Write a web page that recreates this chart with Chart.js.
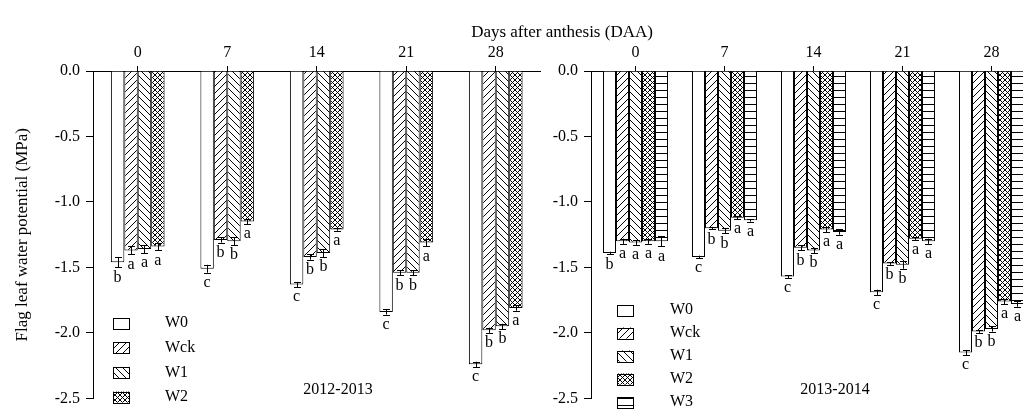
<!DOCTYPE html>
<html>
<head>
<meta charset="utf-8">
<script src="https://cdn.jsdelivr.net/npm/chart.js@4.4.0/dist/chart.umd.min.js"></script>
<style>
  html, body { margin: 0; padding: 0; background: #fff; overflow: hidden; }
  #wrap { position: relative; width: 1023px; height: 414px; overflow: hidden; }
  #c1 { position: absolute; left: 0; top: 0; }
  #c2 { position: absolute; left: 545px; top: 0; }
</style>
</head>
<body>
<div id="wrap">
  <canvas id="c1" width="1023" height="414"></canvas>
  <canvas id="c2" width="495" height="414"></canvas>
</div>
<script>
// Data
const days = ["0", "7", "14", "21", "28"];
const yTicks = [0, -0.5, -1.0, -1.5, -2.0, -2.5];

// 2012-2013
const names2013 = ["W0", "Wck", "W1", "W2"];
const w0_2013 = [-1.46, -1.51, -1.63, -1.84, -2.24];
const wck_2013 = [-1.37, -1.29, -1.42, -1.54, -1.98];
const w1_2013 = [-1.36, -1.30, -1.39, -1.54, -1.95];
const w2_2013 = [-1.34, -1.15, -1.21, -1.31, -1.81];
const err_w0_2013 = [0.04, 0.03, 0.02, 0.02, 0.02];
const err_wck_2013 = [0.03, 0.02, 0.02, 0.02, 0.02];
const err_w1_2013 = [0.03, 0.03, 0.03, 0.02, 0.02];
const err_w2_2013 = [0.03, 0.02, 0.01, 0.03, 0.02];
const let_w0_2013 = ["b", "c", "c", "c", "c"];
const let_wck_2013 = ["a", "b", "b", "b", "b"];
const let_w1_2013 = ["a", "b", "b", "b", "b"];
const let_w2_2013 = ["a", "a", "a", "a", "a"];

// 2013-2014
const names2014 = ["W0", "Wck", "W1", "W2", "W3"];
const w0_2014 = [-1.39, -1.42, -1.57, -1.69, -2.15];
const wck_2014 = [-1.30, -1.20, -1.35, -1.47, -1.99];
const w1_2014 = [-1.31, -1.22, -1.37, -1.48, -1.97];
const w2_2014 = [-1.30, -1.12, -1.21, -1.28, -1.76];
const w3_2014 = [-1.30, -1.14, -1.23, -1.30, -1.78];
const err_w0_2014 = [0.01, 0.01, 0.01, 0.02, 0.02];
const err_wck_2014 = [0.02, 0.01, 0.02, 0.01, 0.01];
const err_w1_2014 = [0.02, 0.02, 0.02, 0.03, 0.02];
const err_w2_2014 = [0.02, 0.01, 0.02, 0.01, 0.02];
const err_w3_2014 = [0.04, 0.01, 0.02, 0.02, 0.02];
const let_w0_2014 = ["b", "c", "c", "c", "c"];
const let_wck_2014 = ["a", "b", "b", "b", "b"];
const let_w1_2014 = ["a", "b", "b", "b", "b"];
const let_w2_2014 = ["a", "a", "a", "a", "a"];
const let_w3_2014 = ["a", "a", "a", "a", "a"];

const FONT = "'Liberation Serif', 'Times New Roman', serif";

// Hatch patterns
function makePattern(kind) {
  if (kind === "none") return "#ffffff";
  const s = kind === "cross" ? 5 : 7;
  const c = document.createElement("canvas");
  c.width = s; c.height = s;
  const g = c.getContext("2d");
  g.fillStyle = "#fff";
  g.fillRect(0, 0, s, s);
  g.strokeStyle = "#000";
  g.lineWidth = 1;
  g.beginPath();
  if (kind === "fwd" || kind === "cross") {
    g.moveTo(0, s); g.lineTo(s, 0);
    g.moveTo(-1, 1); g.lineTo(1, -1);
    g.moveTo(s - 1, s + 1); g.lineTo(s + 1, s - 1);
  }
  if (kind === "back" || kind === "cross") {
    g.moveTo(0, 0); g.lineTo(s, s);
    g.moveTo(-1, s - 1); g.lineTo(1, s + 1);
    g.moveTo(s - 1, -1); g.lineTo(s + 1, 1);
  }
  if (kind === "horiz") {
    g.moveTo(0, s - 0.5); g.lineTo(s, s - 0.5);
  }
  g.stroke();
  return g.createPattern(c, "repeat");
}

const fills = {
  W0: makePattern("none"),
  Wck: makePattern("fwd"),
  W1: makePattern("back"),
  W2: makePattern("cross"),
  W3: makePattern("horiz")
};

// Error bars, letters, legend, labels
const decor = {
  id: "decor",
  afterDatasetsDraw(chart, args, opts) {
    const ctx = chart.ctx;
    const y = chart.scales.y;
    ctx.save();
    ctx.strokeStyle = "#000";
    ctx.fillStyle = "#000";
    ctx.lineWidth = 1;
    ctx.font = "16px " + FONT;
    ctx.textAlign = "center";
    ctx.textBaseline = "top";
    chart.data.datasets.forEach((ds, i) => {
      const meta = chart.getDatasetMeta(i);
      meta.data.forEach((el, j) => {
        const v = ds.data[j];
        const e = ds.errors[j];
        const x = Math.round(el.x) + 0.5;
        const yTop = y.getPixelForValue(v + e);
        const yBot = y.getPixelForValue(v - e);
        ctx.beginPath();
        ctx.moveTo(x, yTop); ctx.lineTo(x, yBot);
        ctx.moveTo(x - 3.5, Math.round(yTop) + 0.5); ctx.lineTo(x + 3.5, Math.round(yTop) + 0.5);
        ctx.moveTo(x - 3.5, Math.round(yBot) + 0.5); ctx.lineTo(x + 3.5, Math.round(yBot) + 0.5);
        ctx.stroke();
        ctx.fillText(ds.letters[j], el.x, yBot + 2);
      });
    });

    // legend
    ctx.textAlign = "left";
    ctx.textBaseline = "middle";
    chart.data.datasets.forEach((ds, i) => {
      const cy = opts.legendY + i * opts.legendStep;
      ctx.fillStyle = ds.backgroundColor;
      ctx.fillRect(opts.boxX, cy - 5.5, 16, 11);
      ctx.strokeRect(opts.boxX + 0.5, Math.round(cy - 5.5) + 0.5, 16, 11);
      ctx.fillStyle = "#000";
      ctx.fillText(ds.label, opts.labelX, cy);
    });

    // season label
    ctx.textAlign = "center";
    ctx.fillText(opts.season, opts.seasonX, opts.seasonY);

    if (opts.title) {
      ctx.font = "17px " + FONT;
      ctx.fillText(opts.title, opts.titleX, opts.titleY);
    }
    ctx.restore();
  }
};

function buildDatasets(names, values, errors, letters) {
  return names.map((n, i) => ({
    label: n,
    data: values[i],
    errors: errors[i],
    letters: letters[i],
    backgroundColor: fills[n],
    borderColor: "#000",
    borderWidth: 1,
    barPercentage: 1.0
  }));
}

function makeOptions(yWidth, padRight, catPct, decorOpts, showYTitle) {
  return {
    responsive: false,
    animation: false,
    layout: { padding: { left: 0, right: padRight, top: 0, bottom: 8 } },
    datasets: { bar: { categoryPercentage: catPct, barPercentage: 1.0 } },
    plugins: {
      legend: { display: false },
      tooltip: { enabled: false },
      decor: decorOpts
    },
    scales: {
      x: {
        position: "top",
        afterFit: (s) => { s.height = 71; },
        grid: { display: true, drawOnChartArea: false, offset: false, tickLength: 5, color: "#000" },
        border: { display: true, color: "#000", width: 1 },
        ticks: { color: "#000", padding: 4, font: { family: FONT, size: 16 }, maxRotation: 0 }
      },
      y: {
        min: -2.5,
        max: 0,
        afterFit: (s) => { s.width = yWidth; },
        afterBuildTicks: (s) => { s.ticks = yTicks.map(v => ({ value: v })); },
        grid: { display: true, drawOnChartArea: false, tickLength: 7, color: "#000" },
        border: { display: true, color: "#000", width: 1 },
        ticks: {
          color: "#000",
          padding: 6,
          font: { family: FONT, size: 16 },
          callback: (v) => Number(v).toFixed(1)
        },
        title: {
          display: showYTitle,
          text: "Flag leaf water potential (MPa)",
          color: "#000",
          font: { family: FONT, size: 17 },
          padding: { top: 12, bottom: 0 }
        }
      }
    }
  };
}

new Chart(document.getElementById("c1"), {
  type: "bar",
  data: {
    labels: days,
    datasets: buildDatasets(
      names2013,
      [w0_2013, wck_2013, w1_2013, w2_2013],
      [err_w0_2013, err_wck_2013, err_w1_2013, err_w2_2013],
      [let_w0_2013, let_wck_2013, let_w1_2013, let_w2_2013]
    )
  },
  options: makeOptions(93, 482.5, 0.6, {
    legendY: 323, legendStep: 24.7, boxX: 113, labelX: 165,
    season: "2012-2013", seasonX: 338, seasonY: 390,
    title: "Days after anthesis (DAA)", titleX: 562, titleY: 33
  }, true),
  plugins: [decor]
});

new Chart(document.getElementById("c2"), {
  type: "bar",
  data: {
    labels: days,
    datasets: buildDatasets(
      names2014,
      [w0_2014, wck_2014, w1_2014, w2_2014, w3_2014],
      [err_w0_2014, err_wck_2014, err_w1_2014, err_w2_2014, err_w3_2014],
      [let_w0_2014, let_wck_2014, let_w1_2014, let_w2_2014, let_w3_2014]
    )
  },
  options: makeOptions(46, 4, 0.73, {
    legendY: 310, legendStep: 23, boxX: 72, labelX: 125,
    season: "2013-2014", seasonX: 290, seasonY: 390
  }, false),
  plugins: [decor]
});
</script>
</body>
</html>
